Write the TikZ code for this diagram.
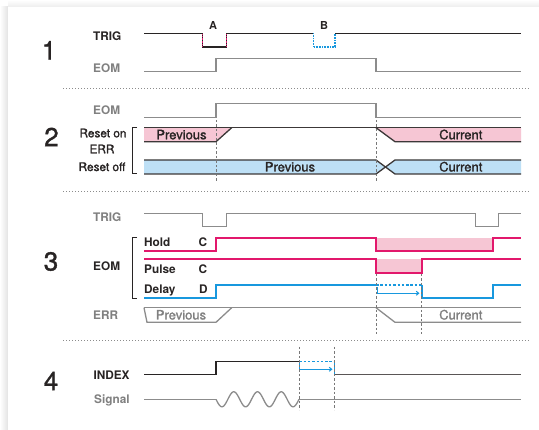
\documentclass[tikz,border=0pt]{standalone}
\usepackage{fontspec}
\setmainfont{TeX Gyre Heros}
\newfontfamily\medf{TeX Gyre Heros}[FakeBold=1.3]
\usetikzlibrary{arrows.meta}
\definecolor{mag}{RGB}{226,24,108}
\definecolor{pinkf}{RGB}{246,198,212}
\definecolor{blu}{RGB}{24,152,222}
\definecolor{bluf}{RGB}{190,224,246}
\definecolor{dk}{RGB}{40,36,36}
\definecolor{gr}{RGB}{140,140,140}
\definecolor{grt}{RGB}{128,128,128}
\definecolor{bus}{RGB}{60,56,56}
\begin{document}
\begin{tikzpicture}[x=1pt,y=-1pt,
  lbl/.style={inner sep=0pt, font=\medf\fontsize{11.8}{13}\selectfont, text=dk},
  vlbl/.style={inner sep=0pt, font=\medf\fontsize{13}{15}\selectfont, text=dk},
  blbl/.style={inner sep=0pt, font=\fontsize{11.8}{13}\selectfont\bfseries, text=dk},
  glbl/.style={inner sep=0pt, font=\fontsize{11.8}{13}\selectfont\bfseries, text=grt},
  num/.style={inner sep=0pt, font=\medf\fontsize{26}{30}\selectfont, text=dk},
  darkln/.style={draw=dk, line width=1.2pt},
  busln/.style={draw=bus, line width=1.3pt},
  grayln/.style={draw=gr, line width=1.3pt},
  magln/.style={draw=mag, line width=1.7pt},
  bluln/.style={draw=blu, line width=1.7pt},
  vdash/.style={draw={rgb,255:red,120;green,120;blue,120}, line width=0.8pt, dash pattern=on 2.5pt off 2pt},
  sepline/.style={draw=gr, line width=0.8pt, dash pattern=on 0.8pt off 2.2pt},
  tipa/.style={-{Straight Barb[length=2.5pt,width=4pt]}}
]
\useasboundingbox (0,0) rectangle (539,430);
% background with soft shadow
\fill[white] (0,0) rectangle (539,430);
\shade[left color=white, right color=black!11] (0,7) rectangle (8,430);
\shade[top color=white, bottom color=black!7] (8,0) rectangle (539,7);
\fill[white] (8,7) rectangle (539,430);

% separators
\draw[sepline] (63,88.7) -- (530,88.7);
\draw[sepline] (63,191.7) -- (530,191.7);
\draw[sepline] (63,340) -- (530,340);

% ===== Section 1 =====
\node[num] (n1) at (49,50.3) {1};
\node[blbl, anchor=base west] (trig1) at (93,40.7) {TRIG};
\node[glbl, anchor=base west] (eom1) at (93,72.7) {EOM};
\node[blbl, font=\fontsize{11}{12}\selectfont\bfseries, anchor=base] (la) at (213,30) {A};
\node[blbl, font=\fontsize{11}{12}\selectfont\bfseries, anchor=base] (lb) at (324,30) {B};
\draw[darkln] (144,33.3) -- (202.7,33.3) -- (202.7,47) -- (226.7,47) -- (226.7,33.3) -- (313.3,33.3);
\draw[darkln] (335,33.3) -- (521,33.3);
\draw[draw=mag, line width=1.2pt, dash pattern=on 0.7pt off 0.9pt] (202.7,34.5) -- (202.7,46.5);
\draw[draw=mag, line width=1.2pt, dash pattern=on 0.7pt off 0.9pt] (226.7,34.5) -- (226.7,46.5);
\draw[draw=blu, line width=1.3pt, dash pattern=on 0.8pt off 0.8pt] (313.3,33.3) -- (313.3,47) -- (335,47) -- (335,33.3);
\draw[grayln] (144,71.7) -- (216,71.7) -- (216,58.7) -- (376,58.7) -- (376,71.7) -- (521,71.7);

% ===== Section 2 =====
\node[num] (n2) at (51.5,137) {2};
\node[glbl, anchor=base west] (eom2) at (93,115) {EOM};
\node[lbl, anchor=base] (reson) at (103,137.3) {Reset on};
\node[lbl, anchor=base] (err2) at (102,153.3) {ERR};
\node[lbl, anchor=base] (resoff) at (102,171) {Reset off};
\draw[dk, line width=1pt] (137,128) -- (132,128) -- (132,174) -- (137,174);
\draw[grayln] (144,117.3) -- (216,117.3) -- (216,103.7) -- (376,103.7) -- (376,117.3) -- (521,117.3);
% reset on bus
\fill[pinkf] (144,127.7) -- (231.7,127.7) -- (216,141.7) -- (144,141.7) -- cycle;
\fill[pinkf] (376,127.7) -- (521,127.7) -- (521,141.7) -- (395,141.7) -- cycle;
\draw[busln] (144,127.7) -- (521,127.7);
\draw[busln] (144,141.7) -- (216,141.7) -- (231.7,127.7);
\draw[busln] (376,127.7) -- (395,141.7) -- (521,141.7);
% reset off bus
\fill[bluf] (144,160) -- (376,160) -- (385.5,167) -- (376,174) -- (144,174) -- cycle;
\fill[bluf] (395,160) -- (521,160) -- (521,174) -- (395,174) -- (385.5,167) -- cycle;
\draw[busln] (144,160) -- (376,160) -- (395,174) -- (521,174);
\draw[busln] (144,174) -- (376,174) -- (395,160) -- (521,160);
\node[vlbl, anchor=base] (prev2a) at (181.5,139.3) {Previous};
\node[vlbl, anchor=base] (cur2a) at (460.8,139.3) {Current};
\node[vlbl, anchor=base] (prev2b) at (290,171.5) {Previous};
\node[vlbl, anchor=base] (cur2b) at (460.8,171.5) {Current};
\draw[vdash] (216,120) -- (216,181);
\draw[vdash] (376,120) -- (376,181);

% ===== Section 3 =====
\node[num] (n3) at (51,261.5) {3};
\node[glbl, anchor=base west] (trig3) at (93,222) {TRIG};
\node[blbl, anchor=base west] (eom3) at (93,270.7) {EOM};
\node[glbl, anchor=base west] (err3) at (93,320) {ERR};
\node[blbl, anchor=base west] (hold) at (144,247) {Hold};
\node[blbl, anchor=base west] (c1) at (198.3,247) {C};
\node[blbl, anchor=base west] (pulse) at (144,273.3) {Pulse};
\node[blbl, anchor=base west] (c2) at (198.3,273.3) {C};
\node[blbl, anchor=base west] (delay) at (144,293.3) {Delay};
\node[blbl, anchor=base west] (dd) at (198.8,293.3) {D};
\draw[dk, line width=1pt] (137,237.7) -- (132,237.7) -- (132,298.3) -- (137,298.3);
\draw[grayln] (144,213.3) -- (202.7,213.3) -- (202.7,226.7) -- (226.7,226.7) -- (226.7,213.3) -- (475.3,213.3) -- (475.3,226.7) -- (498.7,226.7) -- (498.7,213.3) -- (521,213.3);
% hold
\fill[pinkf] (376,237.7) rectangle (493.3,251);
\draw[magln] (144,251) -- (216,251) -- (216,237.7) -- (376,237.7) -- (376,251) -- (493.3,251) -- (493.3,237.7) -- (521,237.7);
% pulse
\fill[pinkf] (376,259.3) rectangle (421.7,272.7);
\draw[magln] (144,259.3) -- (376,259.3) -- (376,272.7) -- (421.7,272.7) -- (421.7,259.3) -- (521,259.3);
% delay
\draw[bluln] (144,297.7) -- (216,297.7) -- (216,285) -- (376,285);
\draw[draw=blu, line width=1.5pt, dash pattern=on 2.5pt off 1.8pt] (376,285) -- (421.7,285);
\draw[bluln] (421.7,285) -- (421.7,297.7) -- (493.3,297.7) -- (493.3,285) -- (521,285);
\coordinate (d3a) at (377,287.5);
\coordinate (d3b) at (377,293.3);
\coordinate (d3c) at (419.5,293.3);
\draw[draw=blu, line width=1pt, tipa] (d3a) -- (d3b) -- (d3c);
% err
\draw[grayln] (144,307.7) -- (521,307.7);
\draw[grayln] (144,307.7) -- (147,322.3) -- (216,322.3) -- (231.7,307.7);
\draw[grayln] (376,307.7) -- (395,322.3) -- (521,322.3);
\node[vlbl, text=grt, anchor=base] (prev3) at (181,319.5) {Previous};
\node[vlbl, text=grt, anchor=base] (cur3) at (460.8,319.5) {Current};
\draw[vdash] (376,274) -- (376,334);
\draw[vdash] (421.7,274) -- (421.7,334);

% ===== Section 4 =====
\node[num] (n4) at (51,381) {4};
\node[blbl, anchor=base west] (index) at (93.3,380) {INDEX};
\node[glbl, anchor=base west] (signal) at (94,403.3) {Signal};
\draw[darkln] (144,374.5) -- (216,374.5) -- (216,361.7) -- (299.3,361.7);
\draw[draw=blu, line width=1.4pt, dash pattern=on 2.5pt off 1.8pt] (299.3,361.7) -- (334.3,361.7);
\draw[draw=blu, line width=1.4pt] (334.3,361.7) -- (334.3,374.5);
\draw[draw={rgb,255:red,90;green,86;blue,86}, line width=1.6pt] (334.3,374.5) -- (521,374.5);
\coordinate (d4a) at (299.8,363);
\coordinate (d4b) at (299.8,369.3);
\coordinate (d4c) at (332.5,369.3);
\draw[draw=blu, line width=1pt, tipa] (d4a) -- (d4b) -- (d4c);
\draw[grayln] (144,399.3) -- (216,399.3);
\draw[grayln, smooth, samples=120, domain=216:299] plot (\x, {399.3 + 7.5*sin(15.1812*(\x-216))});
\draw[grayln] (299,399.3) -- (521,399.3);
\draw[vdash] (299.3,347) -- (299.3,410);
\draw[vdash] (334.3,347) -- (334.3,410);
\end{tikzpicture}
\end{document}
